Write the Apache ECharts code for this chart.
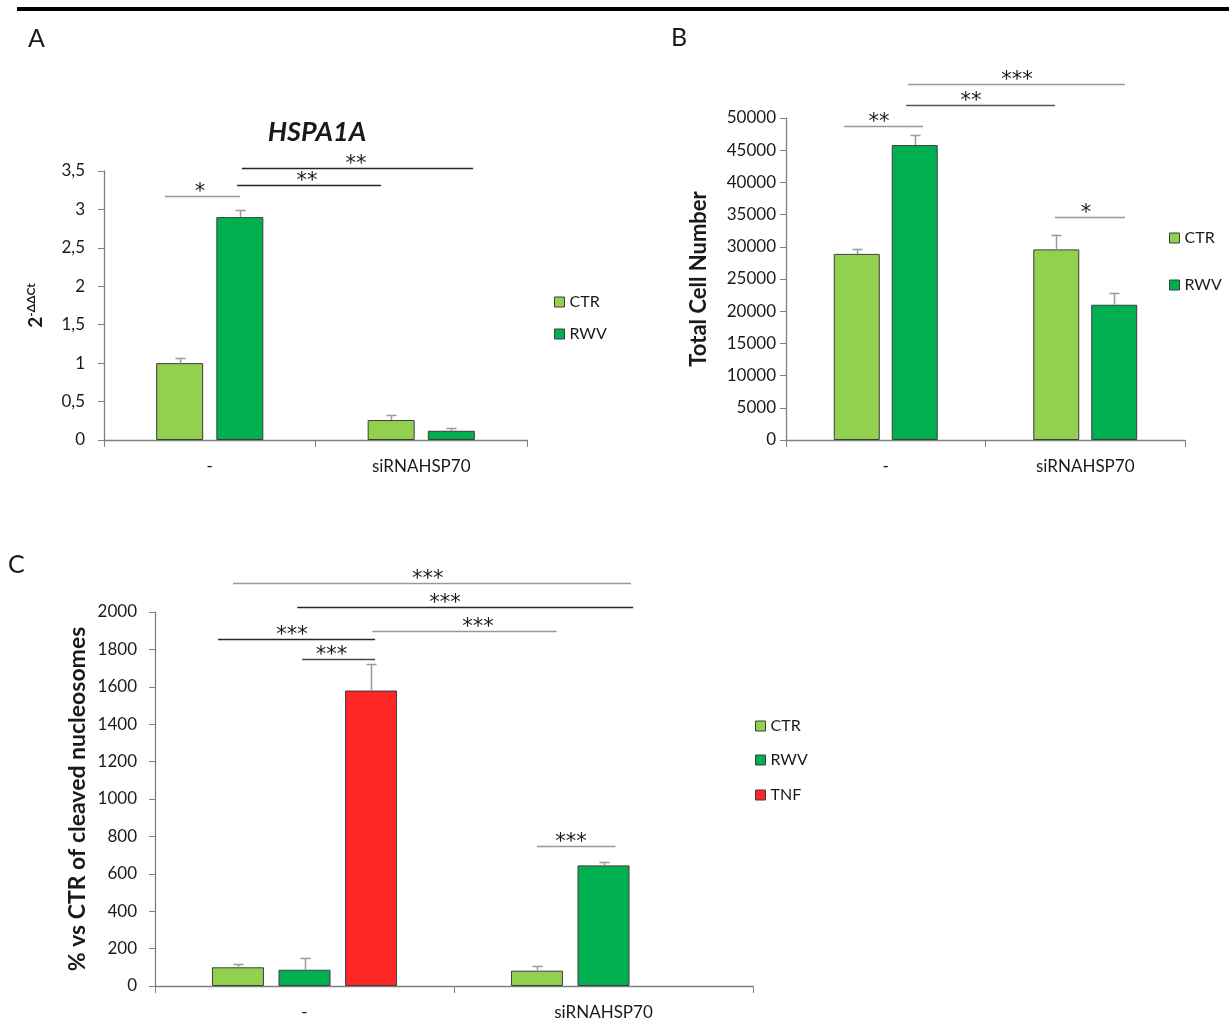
<!DOCTYPE html>
<html>
<head>
<meta charset="utf-8">
<script src="https://cdn.jsdelivr.net/npm/echarts@6/dist/echarts.min.js"></script>
<style>
  html, body { margin: 0; padding: 0; background: #fff; }
  #fig { width: 1229px; height: 1022px; }
</style>
</head>
<body>
<div id="fig"></div>
<script>
// ---------------- data ----------------
const groups = ['-', 'siRNAHSP70'];

// Panel A: HSPA1A expression, 2^-ΔΔCt
const hspAxis = [0, 3.5, 0.5];            // min, max, step
const hspCTR = [1.0, 0.26];
const hspCTRerr = [0.07, 0.07];
const hspRWV = [2.9, 0.12];
const hspRWVerr = [0.09, 0.03];
// brackets: [from, to, level, star position, stars]  (x in category-band units 0..2)
const hspBrackets = [
  [0.288, 0.643, 3.18, 0.454, '*'],
  [0.629, 1.310, 3.32, 0.960, '**'],
  [0.652, 1.745, 3.54, 1.191, '**']
];

// Panel B: total cell number
const cellAxis = [0, 50000, 5000];
const cellCTR = [28900, 29600];
const cellCTRerr = [700, 2300];
const cellRWV = [45800, 21000];
const cellRWVerr = [1600, 1750];
const cellBrackets = [
  [0.291, 0.687, 48800, 0.466, '**'],
  [0.602, 1.348, 52000, 0.927, '**'],
  [0.612, 1.699, 55300, 1.158, '***'],
  [1.348, 1.699, 34700, 1.504, '*']
];

// Panel C: % vs CTR of cleaved nucleosomes
const nucAxis = [0, 2000, 200];
const nucCTR = [100, 82];
const nucCTRerr = [18, 23];
const nucRWV = [87, 645];
const nucRWVerr = [62, 20];
const nucTNF = [1580, null];
const nucTNFerr = [140, null];
const nucBrackets = [
  [0.261, 1.592, 2157, 0.912, '***'],
  [0.476, 1.599, 2025, 0.970, '***'],
  [0.727, 1.343, 1900, 1.080, '***'],
  [0.211, 0.736, 1854, 0.458, '***'],
  [0.492, 0.736, 1750, 0.590, '***'],
  [1.277, 1.540, 747, 1.391, '***']
];

// ---------------- styling ----------------
const FONT = 'Lato, "Open Sans", sans-serif';
const STAR_FONT = '21px "DejaVu Sans", sans-serif';
const TEXT = '#1a1a1a';
const AXIS = '#808080';
const ERR = '#9a9a9a';
const GRAY_LINE = '#999999';
const DARK_LINE = '#262626';
const colors = { CTR: '#92D050', RWV: '#00B050', TNF: '#FF2626' };
const BORDER = '#3d3d3d';

const hspTones = [GRAY_LINE, DARK_LINE, DARK_LINE];
const cellTones = [GRAY_LINE, '#555555', GRAY_LINE, GRAY_LINE];
const nucTones = [GRAY_LINE, DARK_LINE, GRAY_LINE, DARK_LINE, '#444444', GRAY_LINE];

// ---------------- helpers ----------------
function barOffset(barW, gap, count, idx) {
  const total = count * barW + (count - 1) * gap * barW;
  return -total / 2 + barW / 2 + idx * barW * (1 + gap);
}

function errorSeries(axisIdx, values, errs, barW, gap, count, idx) {
  const data = [];
  values.forEach((v, i) => {
    if (v !== null && errs[i] !== null) data.push([i, v, errs[i]]);
  });
  return {
    type: 'custom',
    xAxisIndex: axisIdx * 2,
    yAxisIndex: axisIdx,
    z: 3,
    silent: true,
    encode: { x: 0, y: 1 },
    data: data,
    renderItem: function (params, api) {
      const cat = api.value(0), v = api.value(1), e = api.value(2);
      const base = api.coord([cat, v]);
      const top = api.coord([cat, v + e]);
      const x = Math.round(base[0] + barOffset(barW, gap, count, idx)) + 0.5;
      const yt = Math.round(top[1]) + 0.5;
      return {
        type: 'group',
        children: [
          { type: 'line', shape: { x1: x, y1: base[1], x2: x, y2: yt }, style: { stroke: ERR, lineWidth: 1.5 } },
          { type: 'line', shape: { x1: x - 5, y1: yt, x2: x + 5, y2: yt }, style: { stroke: ERR, lineWidth: 1.5 } }
        ]
      };
    }
  };
}

function bracketSeries(axisIdx, rows, tones) {
  return {
    type: 'custom',
    xAxisIndex: axisIdx * 2 + 1,
    yAxisIndex: axisIdx,
    silent: true,
    clip: false,
    z: 4,
    encode: { x: [0, 1, 3], y: 2 },
    data: rows.map(r => r.slice(0, 4)),
    renderItem: function (params, api) {
      const lvl = api.value(2);
      const p1 = api.coord([api.value(0), lvl]);
      const p2 = api.coord([api.value(1), lvl]);
      const pt = api.coord([api.value(3), lvl]);
      const y = Math.round(p1[1]) + 0.5;
      return {
        type: 'group',
        children: [
          { type: 'line', shape: { x1: p1[0], y1: y, x2: p2[0], y2: y },
            style: { stroke: tones[params.dataIndex], lineWidth: 1.3 } },
          { type: 'text', x: pt[0], y: y - 4,
            style: { text: rows[params.dataIndex][4], align: 'center', verticalAlign: 'middle',
                     font: STAR_FONT, fill: TEXT } }
        ]
      };
    }
  };
}

function barSeries(axisIdx, name, values, barW, gap) {
  return {
    type: 'bar',
    name: name,
    xAxisIndex: axisIdx * 2,
    yAxisIndex: axisIdx,
    barWidth: barW,
    barGap: (gap * 100) + '%',
    data: values.map(v => (v === null ? '-' : v)),
    itemStyle: { color: colors[name], borderColor: BORDER, borderWidth: 1 },
    emphasis: { disabled: true }
  };
}

function catAxis(gridIdx, labelMargin) {
  return {
    type: 'category',
    gridIndex: gridIdx,
    data: groups,
    boundaryGap: true,
    axisLine: { lineStyle: { color: AXIS, width: 1.3 } },
    axisTick: { show: true, length: 7, lineStyle: { color: AXIS } },
    axisLabel: { margin: labelMargin, fontSize: 17, color: TEXT, fontFamily: FONT },
    splitLine: { show: false }
  };
}

function bandAxis(gridIdx) {
  return { type: 'value', gridIndex: gridIdx, min: 0, max: 2, show: false };
}

function valAxis(gridIdx, range, name, nameGap, nameSize, labelMargin, fmt) {
  return {
    type: 'value',
    gridIndex: gridIdx,
    min: range[0], max: range[1], interval: range[2],
    name: name,
    nameLocation: 'middle',
    nameRotate: 90,
    nameGap: nameGap,
    nameTextStyle: { fontSize: nameSize, fontWeight: 'bold', color: TEXT, fontFamily: FONT,
      rich: {
        b: { fontSize: 19, fontWeight: 'bold', fontFamily: FONT, color: TEXT },
        s: { fontSize: 12, fontWeight: 'bold', fontFamily: FONT, color: TEXT, padding: [0, 0, 10, 0] }
      } },
    axisLine: { show: true, lineStyle: { color: AXIS, width: 1.3 } },
    axisTick: { show: true, length: 6, inside: false, lineStyle: { color: AXIS } },
    axisLabel: { margin: labelMargin, fontSize: 17, color: TEXT, fontFamily: FONT, formatter: fmt },
    splitLine: { show: false }
  };
}

function legendItem(name, left, top) {
  return {
    data: [name],
    left: left, top: top,
    orient: 'vertical',
    padding: 0,
    icon: 'rect',
    itemWidth: 10, itemHeight: 10, itemGap: 0,
    selectedMode: false,
    itemStyle: { borderColor: BORDER, borderWidth: 1 },
    textStyle: { fontSize: 16, color: TEXT, fontFamily: FONT }
  };
}

const plain = v => String(v);

// ---------------- chart ----------------
const chart = echarts.init(document.getElementById('fig'), null, { renderer: 'canvas' });

const option = {
  animation: false,
  backgroundColor: '#ffffff',
  textStyle: { fontFamily: FONT },
  title: [
    { text: 'A', left: 23, top: 21, textStyle: { fontSize: 25, fontWeight: 'normal', color: TEXT, fontFamily: FONT } },
    { text: 'B', left: 666, top: 20, textStyle: { fontSize: 25, fontWeight: 'normal', color: TEXT, fontFamily: FONT } },
    { text: 'C', left: 3, top: 547, textStyle: { fontSize: 25, fontWeight: 'normal', color: TEXT, fontFamily: FONT } },
    { text: 'HSPA1A', left: 312, textAlign: 'center', top: 114,
      textStyle: { fontSize: 27, fontWeight: 'bold', fontStyle: 'italic', color: TEXT, fontFamily: FONT } }
  ],
  graphic: [
    { type: 'rect', shape: { x: 17, y: 7, width: 1212, height: 4 }, style: { fill: '#000' }, silent: true }
  ],
  grid: [
    { left: 104, top: 171, width: 423, height: 269 },
    { left: 786, top: 118, width: 399, height: 322 },
    { left: 155, top: 612, width: 598, height: 374 }
  ],
  xAxis: [
    catAxis(0, 18), bandAxis(0),
    catAxis(1, 18), bandAxis(1),
    catAxis(2, 18), bandAxis(2)
  ],
  yAxis: [
    valAxis(0, hspAxis, '{b|2}{s|-ΔΔCt}', 57, 15, 19, v => String(v).replace('.', ',')),
    valAxis(1, cellAxis, 'Total Cell Number', 76, 22, 10, plain),
    valAxis(2, nucAxis, '% vs CTR of cleaved nucleosomes', 66, 23, 18, plain)
  ],
  legend: [
    legendItem('CTR', 554, 294),
    legendItem('RWV', 554, 326),
    legendItem('CTR', 1169, 230),
    legendItem('RWV', 1169, 277),
    legendItem('CTR', 755, 718),
    legendItem('RWV', 755, 752),
    legendItem('TNF', 755, 787)
  ],
  series: [
    barSeries(0, 'CTR', hspCTR, 47, 0.28),
    barSeries(0, 'RWV', hspRWV, 47, 0.28),
    errorSeries(0, hspCTR, hspCTRerr, 47, 0.28, 2, 0),
    errorSeries(0, hspRWV, hspRWVerr, 47, 0.28, 2, 1),
    bracketSeries(0, hspBrackets, hspTones),

    barSeries(1, 'CTR', cellCTR, 46, 0.26),
    barSeries(1, 'RWV', cellRWV, 46, 0.26),
    errorSeries(1, cellCTR, cellCTRerr, 46, 0.26, 2, 0),
    errorSeries(1, cellRWV, cellRWVerr, 46, 0.26, 2, 1),
    bracketSeries(1, cellBrackets, cellTones),

    barSeries(2, 'CTR', nucCTR, 52, 0.28),
    barSeries(2, 'RWV', nucRWV, 52, 0.28),
    barSeries(2, 'TNF', nucTNF, 52, 0.28),
    errorSeries(2, nucCTR, nucCTRerr, 52, 0.28, 3, 0),
    errorSeries(2, nucRWV, nucRWVerr, 52, 0.28, 3, 1),
    errorSeries(2, nucTNF, nucTNFerr, 52, 0.28, 3, 2),
    bracketSeries(2, nucBrackets, nucTones)
  ]
};

chart.setOption(option);
</script>
</body>
</html>
